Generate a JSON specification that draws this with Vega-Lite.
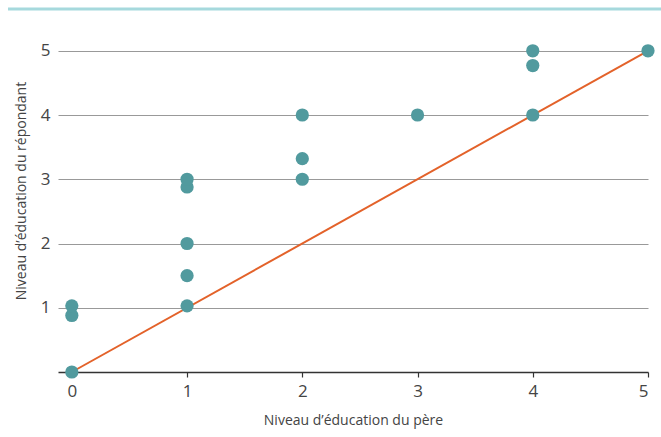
{
  "$schema": "https://vega.github.io/schema/vega-lite/v6.json",
  "width": 590,
  "height": 363,
  "autosize": "none",
  "padding": {"left": 58, "top": 9, "right": 13, "bottom": 65},
  "background": "white",
  "config": {
    "view": {"stroke": null},
    "font": "Open Sans",
    "axis": {"labelFont": "Open Sans", "titleFont": "Open Sans", "labelColor": "#444444", "titleColor": "#444444", "titleFontWeight": "normal"}
  },
  "datasets": {
    "pts": [
      {"pere": 0, "repondant": 0},
      {"pere": 0, "repondant": 0.88},
      {"pere": 0, "repondant": 1.03},
      {"pere": 1, "repondant": 1.03},
      {"pere": 1, "repondant": 1.5},
      {"pere": 1, "repondant": 2.0},
      {"pere": 1, "repondant": 2.88},
      {"pere": 1, "repondant": 3.0},
      {"pere": 2, "repondant": 3.0},
      {"pere": 2, "repondant": 3.32},
      {"pere": 2, "repondant": 4.0},
      {"pere": 3, "repondant": 4.0},
      {"pere": 4, "repondant": 4.0},
      {"pere": 4, "repondant": 4.77},
      {"pere": 4, "repondant": 5.0},
      {"pere": 5, "repondant": 5.0}
    ],
    "diag": [
      {"pere": 0, "repondant": 0},
      {"pere": 5, "repondant": 5}
    ],
    "topline": [
      {"niveau": 5.65}
    ]
  },
  "layer": [
    {
      "data": {"name": "topline"},
      "mark": {"type": "rule", "color": "#a6d9dd", "strokeWidth": 3, "clip": false},
      "encoding": {
        "x": {"datum": -0.554, "type": "quantitative"},
        "x2": {"datum": 5.113},
        "y": {"field": "niveau", "type": "quantitative", "scale": {"domain": [0, 5.65], "nice": false, "zero": false}}
      }
    },
    {
      "data": {"name": "diag"},
      "mark": {"type": "line", "color": "#e3622a", "strokeWidth": 2, "clip": false},
      "encoding": {
        "x": {"field": "pere", "type": "quantitative"},
        "y": {"field": "repondant", "type": "quantitative"}
      }
    },
    {
      "data": {"name": "pts"},
      "mark": {"type": "circle", "color": "#519a9e", "opacity": 1, "size": 175, "clip": false},
      "encoding": {
        "x": {
          "field": "pere", "type": "quantitative",
          "title": "Niveau d’éducation du père",
          "scale": {"domain": [-0.12, 5], "nice": false, "zero": false},
          "axis": {
            "values": [0, 1, 2, 3, 4, 5], "format": "d", "grid": false,
            "domainColor": "#333333", "domainWidth": 1.5,
            "tickColor": "#333333", "tickWidth": 1.2, "tickSize": 5,
            "labelFontSize": 17, "labelPadding": 6,
            "titleFontSize": 14, "titlePadding": 14
          }
        },
        "y": {
          "field": "repondant", "type": "quantitative",
          "title": "Niveau d’éducation du répondant",
          "scale": {"domain": [0, 5.65], "nice": false, "zero": false},
          "axis": {
            "values": [1, 2, 3, 4, 5], "format": "d", "grid": true,
            "gridColor": "#999999", "gridWidth": 1,
            "domain": false, "ticks": false,
            "labelFontSize": 17, "labelPadding": 8,
            "titleFontSize": 14, "titlePadding": 12
          }
        }
      }
    }
  ]
}
